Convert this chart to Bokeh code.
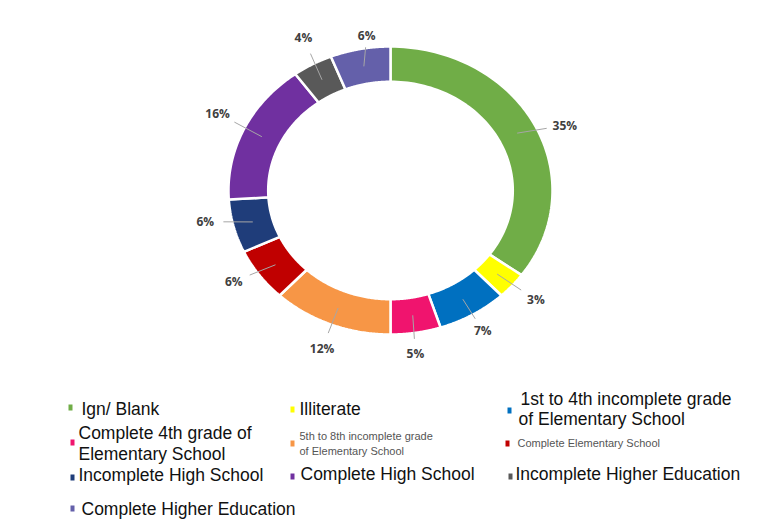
import numpy as np
from bokeh.plotting import figure
from bokeh.models import Range1d, ColumnDataSource
from bokeh.core.properties import value
from bokeh.embed import file_html
from bokeh.resources import INLINE

# ---------------- data ----------------
categories = [
    "Ign/ Blank",
    "Illiterate",
    "1st to 4th incomplete grade\nof Elementary School",
    "Complete 4th grade of\nElementary School",
    "5th to 8th incomplete grade\nof Elementary School",
    "Complete Elementary School",
    "Incomplete High School",
    "Complete High School",
    "Incomplete Higher Education",
    "Complete Higher Education",
]
values = [35, 3, 7, 5, 12, 6, 6, 16, 4, 6]
colors = ["#70AD47", "#FFFF00", "#0070C0", "#F0146E", "#F79646",
          "#C00000", "#1F3D7A", "#7030A0", "#595959", "#6460AA"]

# ---------------- layout ----------------
W, H = 771, 522
CX, CY = 390, 190          # ring centre (page pixels)
RX, RY = 162, 144          # outer radii
INNER = 0.755              # inner/outer ratio
LBL_F = 1.18               # label radius factor
# small per-label nudges (px) to mimic the original label placement
nudge = [(4, 12), (2, -3), (-5, -6), (-5, -5), (2, 0),
         (-2, -9), (0, -11), (0, -5), (5, -4), (12, 12)]

p = figure(width=W, height=H, output_backend="svg", toolbar_location=None,
           x_range=Range1d(0, W), y_range=Range1d(H, 0),
           min_border=0, outline_line_color=None, background_fill_color="white")
p.axis.visible = False
p.grid.visible = False

vals = np.array(values, dtype=float)
frac = vals / vals.sum()
ends = np.cumsum(frac) * 2 * np.pi
starts = ends - frac * 2 * np.pi
mids = (starts + ends) / 2

xs, ys = [], []
for a0, a1 in zip(starts, ends):
    t = np.linspace(a0, a1, 80)
    ox = CX + RX * np.sin(t)
    oy = CY - RY * np.cos(t)
    ix = CX + RX * INNER * np.sin(t[::-1])
    iy = CY - RY * INNER * np.cos(t[::-1])
    xs.append(np.concatenate([ox, ix]).tolist())
    ys.append(np.concatenate([oy, iy]).tolist())

p.patches(xs=xs, ys=ys, fill_color=colors, line_color="white", line_width=2.5)

# labels & leader lines
lx = CX + RX * LBL_F * np.sin(mids) + np.array([n[0] for n in nudge])
ly = CY - RY * LBL_F * np.cos(mids) + np.array([n[1] for n in nudge])
sx = CX + RX * (1 + INNER) / 2 * np.sin(mids)
sy = CY - RY * (1 + INNER) / 2 * np.cos(mids)
ex = sx + (lx - sx) * 0.62
ey = sy + (ly - sy) * 0.62
p.segment(x0=sx, y0=sy, x1=ex, y1=ey, line_color="#A6A6A6", line_width=1)

p.text(x=lx, y=ly, text=[f"{int(v)}%" for v in values],
       text_font=value("Open Sans"), text_font_style="bold",
       text_font_size="12px", text_color="#404040",
       text_align="center", text_baseline="middle")

# ---------------- legend (manual) ----------------
# (marker x, marker y, [(text x, text y), ...], font px)
leg_layout = [
    (70, 407, [(81, 408)], 17.5),
    (292, 409, [(299, 408)], 17.5),
    (509, 410, [(520, 398), (518, 418)], 17.5),
    (72, 442, [(78, 432), (78, 453)], 17.5),
    (292, 443, [(299, 435), (299, 450)], 11),
    (507, 443, [(517, 442)], 11),
    (72, 477, [(78, 474)], 17.5),
    (292, 476, [(300, 473)], 17.5),
    (510, 476, [(515, 473)], 17.5),
    (72, 508, [(81, 508)], 17.5),
]
mx = [l[0] for l in leg_layout]
my = [l[1] for l in leg_layout]
p.rect(x=mx, y=my, width=4, height=6, fill_color=colors, line_color=None)

for cat, (m_x, m_y, pos, fs) in zip(categories, leg_layout):
    lines = cat.split("\n")
    src = ColumnDataSource(dict(
        x=[q[0] for q in pos], y=[q[1] for q in pos], t=lines))
    p.text(x="x", y="y", text="t", source=src,
           text_font=value("Liberation Sans"),
           text_font_size=f"{fs}px",
           text_color="#111111" if fs > 12 else "#555555",
           text_align="left", text_baseline="middle")

open("out.html", "w").write(file_html(p, INLINE))
